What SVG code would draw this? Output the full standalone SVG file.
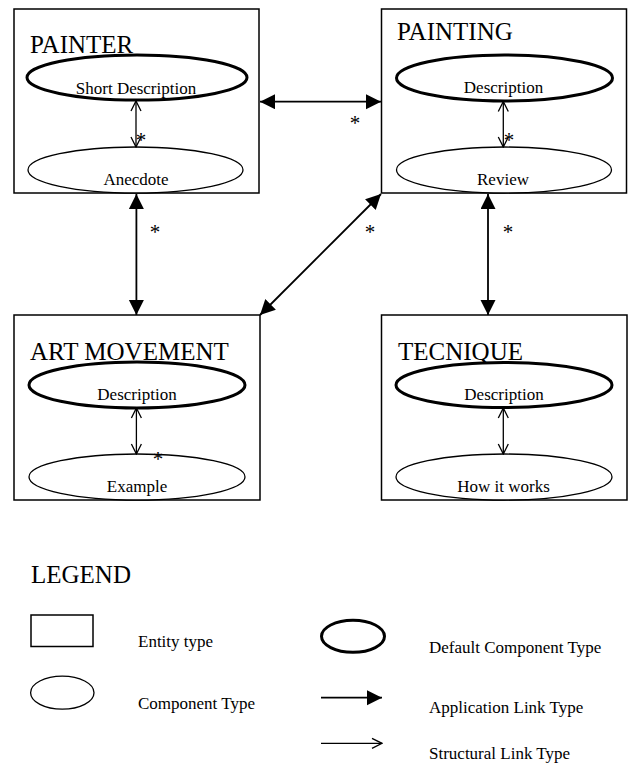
<svg xmlns="http://www.w3.org/2000/svg" width="629" height="763" viewBox="0 0 629 763">
  <style>
    .entity { fill: #fff; stroke: #000; stroke-width: 1.5; }
    .defcomp { fill: #fff; stroke: #000; stroke-width: 3; }
    .comp { fill: #fff; stroke: #000; stroke-width: 1.3; }
    .title { font-family: "Liberation Serif", "Times New Roman", serif; font-size: 25px; fill: #000; }
    .label { font-family: "Liberation Serif", "Times New Roman", serif; font-size: 17px; fill: #000; text-anchor: middle; }
    .legend { font-family: "Liberation Serif", "Times New Roman", serif; font-size: 17px; fill: #000; }
    .star { font-family: "Liberation Serif", "Times New Roman", serif; font-size: 21px; fill: #000; text-anchor: middle; }
    .applink { stroke: #000; stroke-width: 1.8; fill: none; marker-start: url(#solid); marker-end: url(#solid); }
    .structlink { stroke: #000; stroke-width: 1.3; fill: none; marker-start: url(#open); marker-end: url(#open); }
  </style>
  <defs>
    <!-- filled head for application links -->
    <marker id="solid" markerUnits="userSpaceOnUse" markerWidth="16" markerHeight="16" refX="15" refY="7.5" orient="auto-start-reverse" viewBox="0 0 16 16">
      <path d="M0,0 L15,7.5 L0,15 Z" fill="#000"/>
    </marker>
    <!-- open head for structural links -->
    <marker id="open" markerUnits="userSpaceOnUse" markerWidth="12" markerHeight="12" refX="10" refY="5" orient="auto-start-reverse" viewBox="-1 -1 12 12">
      <path d="M0,0 L10,5 L0,10" fill="none" stroke="#000" stroke-width="1.3"/>
    </marker>
  </defs>

  <rect width="629" height="763" fill="#fff"/>

  <!-- Entity: PAINTER -->
  <g id="painter">
    <rect class="entity" x="14" y="9" width="245" height="184"/>
    <text class="title" x="30" y="53">PAINTER</text>
    <ellipse class="defcomp" cx="137" cy="77.5" rx="110" ry="22.5"/>
    <text class="label" x="136" y="94">Short Description</text>
    <ellipse class="comp" cx="135.5" cy="170" rx="107.5" ry="23"/>
    <text class="label" x="136" y="185">Anecdote</text>
    <line class="structlink" x1="136" y1="101" x2="136" y2="147"/>
    <text class="star" x="141" y="147">*</text>
  </g>

  <!-- Entity: PAINTING -->
  <g id="painting">
    <rect class="entity" x="381.5" y="9" width="245" height="184"/>
    <text class="title" x="397" y="40">PAINTING</text>
    <ellipse class="defcomp" cx="504.5" cy="78" rx="108" ry="23"/>
    <text class="label" x="503.5" y="93">Description</text>
    <ellipse class="comp" cx="504" cy="170" rx="107.5" ry="23"/>
    <text class="label" x="503" y="185">Review</text>
    <line class="structlink" x1="503.3" y1="101.5" x2="503.3" y2="147"/>
    <text class="star" x="509" y="147">*</text>
  </g>

  <!-- Entity: ART MOVEMENT -->
  <g id="art-movement">
    <rect class="entity" x="14" y="315" width="246" height="185"/>
    <text class="title" x="30" y="360">ART MOVEMENT</text>
    <ellipse class="defcomp" cx="137" cy="385" rx="108" ry="23"/>
    <text class="label" x="137" y="400">Description</text>
    <ellipse class="comp" cx="137" cy="477" rx="108" ry="23"/>
    <text class="label" x="137" y="492">Example</text>
    <line class="structlink" x1="136.4" y1="408" x2="136.4" y2="454"/>
    <text class="star" x="158" y="466">*</text>
  </g>

  <!-- Entity: TECNIQUE -->
  <g id="tecnique">
    <rect class="entity" x="381.5" y="315" width="245.5" height="185"/>
    <text class="title" x="398" y="360">TECNIQUE</text>
    <ellipse class="defcomp" cx="504" cy="385" rx="108" ry="22.5"/>
    <text class="label" x="504" y="400">Description</text>
    <ellipse class="comp" cx="504" cy="477" rx="108" ry="23"/>
    <text class="label" x="503.5" y="492">How it works</text>
    <line class="structlink" x1="503.3" y1="408" x2="503.3" y2="454"/>
  </g>

  <!-- Application links between entities -->
  <g id="connectors">
    <line class="applink" x1="260" y1="101.7" x2="381" y2="101.7"/>
    <text class="star" x="355" y="130">*</text>
    <line class="applink" x1="136.4" y1="194" x2="136.4" y2="315"/>
    <text class="star" x="155" y="239">*</text>
    <line class="applink" x1="381" y1="194" x2="260" y2="315"/>
    <text class="star" x="370" y="239">*</text>
    <line class="applink" x1="488" y1="194" x2="488" y2="315"/>
    <text class="star" x="508" y="239">*</text>
  </g>

  <!-- Legend -->
  <g id="legend">
    <text class="title" x="31" y="583">LEGEND</text>
    <rect class="entity" x="31" y="615" width="62" height="31.5"/>
    <text class="legend" x="138" y="647">Entity type</text>
    <ellipse class="comp" cx="62.3" cy="692.7" rx="31.7" ry="16.5"/>
    <text class="legend" x="138" y="709">Component Type</text>
    <ellipse class="defcomp" cx="353" cy="636.3" rx="31.5" ry="16"/>
    <text class="legend" x="429" y="653">Default Component Type</text>
    <line x1="321" y1="697.7" x2="382" y2="697.7" stroke="#000" stroke-width="1.8" marker-end="url(#solid)"/>
    <text class="legend" x="429" y="713">Application Link Type</text>
    <line x1="321" y1="743.3" x2="382" y2="743.3" stroke="#000" stroke-width="1.3" marker-end="url(#open)"/>
    <text class="legend" x="429" y="759">Structural Link Type</text>
  </g>
</svg>
